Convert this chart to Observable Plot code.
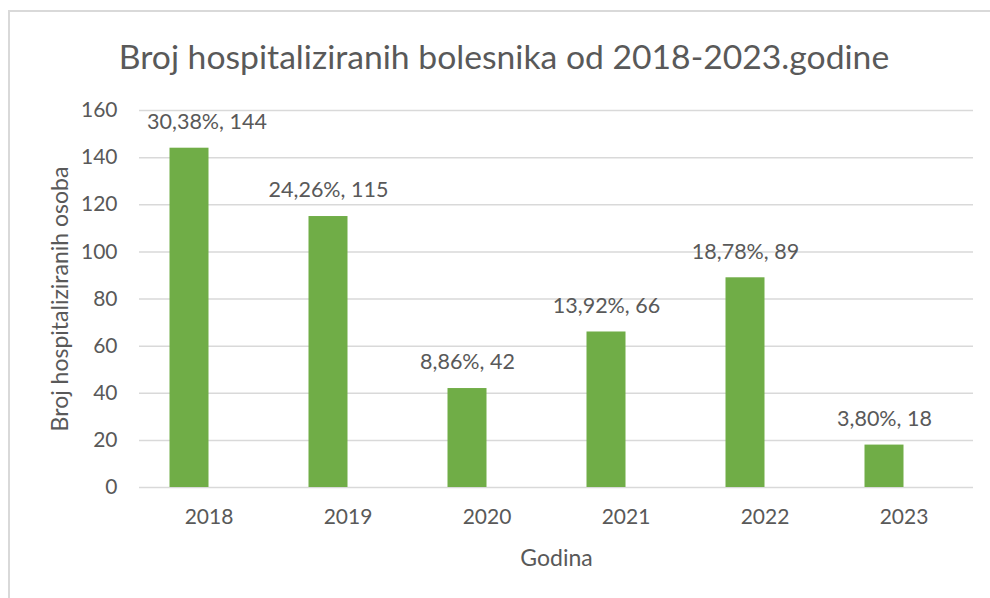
<!DOCTYPE html>
<html>
<head>
<meta charset="utf-8">
<script src="https://cdn.jsdelivr.net/npm/d3@7"></script>
<script src="https://cdn.jsdelivr.net/npm/@observablehq/plot@0.6"></script>
<style>
  html, body { margin: 0; padding: 0; background: #fff; width: 990px; height: 598px; overflow: hidden; }
  body { position: relative; font-family: Lato, "Open Sans", sans-serif; }
  #frame { position: absolute; left: 8px; top: 10px; width: 1000px; height: 620px; border: 2px solid #d9d9d9; box-sizing: border-box; }
  #title { position: absolute; left: 18px; top: 0; width: 972px; height: 80px; text-align: center; line-height: 112px; font-size: 33.7px; color: #595959; font-family: Lato, sans-serif; }
  #chart { position: absolute; left: 0; top: 80px; }
</style>
</head>
<body>
<div id="frame"></div>
<div id="title">Broj hospitaliziranih bolesnika od 2018-2023.godine</div>
<div id="chart"></div>
<script>
const years = ["2018", "2019", "2020", "2021", "2022", "2023"];
const counts = [144, 115, 42, 66, 89, 18];
const percents = ["30,38%", "24,26%", "8,86%", "13,92%", "18,78%", "3,80%"];
const yTicks = [0, 20, 40, 60, 80, 100, 120, 140, 160];

const data = years.map((y, i) => ({year: y, count: counts[i], label: percents[i] + ", " + counts[i], i}));

const textColor = "#595959";
const grid = "#d9d9d9";

const chart = Plot.plot({
  width: 990,
  height: 518,
  marginLeft: 139,
  marginRight: 17,
  marginTop: 30,
  marginBottom: 111,
  style: {fontFamily: "Lato, sans-serif", color: textColor, background: "transparent"},
  x: {domain: years, padding: 0},
  y: {domain: [0, 160]},
  marks: [
    Plot.ruleY(yTicks, {stroke: grid, strokeWidth: 1.5}),
    Plot.barY(data, {x: "year", y: "count", fill: "#70AD47", insetLeft: 30.5, insetRight: 69.5}),
    Plot.text(data.filter(d => d.i === 0), {x: "year", y: "count", text: "label", dx: -2, dy: -26, fontSize: 21.5, fill: textColor}),
    Plot.text(data.filter(d => d.i > 0), {x: "year", y: "count", text: "label", dx: -19.5, dy: -26, fontSize: 21.5, fill: textColor}),
    Plot.axisY({ticks: yTicks, tickSize: 0, tickPadding: 22, fontSize: 21, fill: textColor, label: null}),
    Plot.axisY({ticks: [], tickSize: 0, fontSize: 23, fill: textColor,
      label: "Broj hospitaliziranih osoba", labelAnchor: "center", labelArrow: "none", labelOffset: 88}),
    Plot.axisX({tickSize: 0, tickPadding: 22, fontSize: 21, fill: textColor, label: null}),
    Plot.axisX({ticks: [], tickSize: 0, fontSize: 23, fill: textColor,
      label: "Godina", labelAnchor: "center", labelArrow: "none", labelOffset: 78})
  ]
});
document.getElementById("chart").appendChild(chart);
</script>
</body>
</html>
